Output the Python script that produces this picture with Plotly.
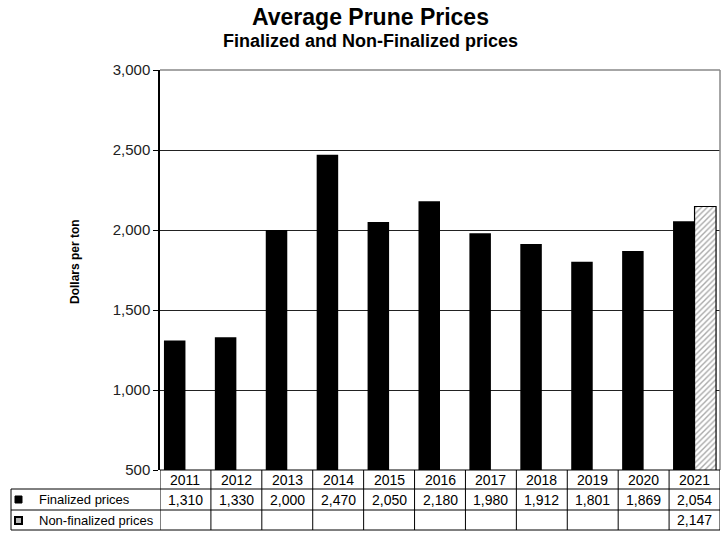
import plotly.graph_objects as go

years = ["2011", "2012", "2013", "2014", "2015", "2016", "2017", "2018", "2019", "2020", "2021"]
finalized = [1310, 1330, 2000, 2470, 2050, 2180, 1980, 1912, 1801, 1869, 2054]
non_finalized = [None, None, None, None, None, None, None, None, None, None, 2147]
y_ticks = [500, 1000, 1500, 2000, 2500, 3000]

FONT = "Arial, Liberation Sans, sans-serif"
W, H = 727, 533
L, R, T, B = 160, 7, 70, 63
PW, PH = W - L - R, H - T - B

def px(xpix):
    return (xpix - L) / PW

def py(ypix):
    return (H - B - ypix) / PH

fig = go.Figure()
fig.add_trace(go.Bar(x=years, y=finalized, name="Finalized prices",
                     marker=dict(color="black", line=dict(width=0))))
fig.add_trace(go.Bar(x=years, y=non_finalized, name="Non-finalized prices",
                     marker=dict(color="white", line=dict(color="black", width=1.2),
                                 pattern=dict(shape="/", fgcolor="#555555", bgcolor="white",
                                              size=4, solidity=0.35))))

shapes = []
annotations = []

# plot border (top/right grey)
shapes.append(dict(type="line", xref="paper", yref="paper", x0=0, x1=1, y0=1, y1=1,
                   line=dict(color="#888888", width=1.5)))
shapes.append(dict(type="line", xref="paper", yref="paper", x0=1, x1=1, y0=0, y1=1,
                   line=dict(color="#888888", width=1.5)))

# table geometry
r1, r2, r3 = py(489), py(510), py(530)
xl = px(11)
n = len(years)
for yy in (r1, r2, r3):
    shapes.append(dict(type="line", xref="paper", yref="paper", x0=xl, x1=1, y0=yy, y1=yy,
                       line=dict(color="black", width=1)))
shapes.append(dict(type="line", xref="paper", yref="paper", x0=0, x1=1, y0=0, y1=0,
                   line=dict(color="black", width=1)))
for i in range(n + 1):
    shapes.append(dict(type="line", xref="x", yref="paper", x0=i - 0.5, x1=i - 0.5, y0=0, y1=r3,
                       line=dict(color="black", width=1)))
shapes.append(dict(type="line", xref="paper", yref="paper", x0=xl, x1=xl, y0=r1, y1=r3,
                   line=dict(color="black", width=1)))

# legend keys
shapes.append(dict(type="rect", xref="paper", yref="paper", x0=px(15), x1=px(22),
                   y0=py(503), y1=py(496), fillcolor="black", line=dict(color="black", width=1)))
shapes.append(dict(type="rect", xref="paper", yref="paper", x0=px(15), x1=px(22),
                   y0=py(524), y1=py(517), fillcolor="#bbbbbb", line=dict(color="black", width=2)))

yc0, yc1, yc2 = py(479.5), py(499.5), py(520)
tf = dict(size=14, color="black", family=FONT)
lf = dict(size=13, color="black", family=FONT)
ctr = dict(xanchor="center", yanchor="middle", showarrow=False, font=tf)
for i, yr in enumerate(years):
    annotations.append(dict(x=i, y=yc0, xref="x", yref="paper", text=yr, **ctr))
    annotations.append(dict(x=i, y=yc1, xref="x", yref="paper", text=f"{finalized[i]:,}", **ctr))
    if non_finalized[i] is not None:
        annotations.append(dict(x=i, y=yc2, xref="x", yref="paper",
                                text=f"{non_finalized[i]:,}", **ctr))

annotations.append(dict(x=px(37), y=yc1, xref="paper", yref="paper", text="Finalized prices",
                        xanchor="left", yanchor="middle", showarrow=False, font=lf))
annotations.append(dict(x=px(37), y=yc2, xref="paper", yref="paper", text="Non-finalized prices",
                        xanchor="left", yanchor="middle", showarrow=False, font=lf))

# titles
annotations.append(dict(x=px(370), y=py(17), xref="paper", yref="paper",
                        text="<b>Average Prune Prices</b>", showarrow=False,
                        xanchor="center", yanchor="middle",
                        font=dict(size=23, color="black", family=FONT)))
annotations.append(dict(x=px(370), y=py(41), xref="paper", yref="paper",
                        text="<b>Finalized and Non-Finalized prices</b>", showarrow=False,
                        xanchor="center", yanchor="middle",
                        font=dict(size=18, color="black", family=FONT)))
# y-axis title
annotations.append(dict(x=px(75), y=py(262), xref="paper", yref="paper",
                        text="<b>Dollars per ton</b>", textangle=-90, showarrow=False,
                        xanchor="center", yanchor="middle",
                        font=dict(size=12, color="black", family=FONT)))

fig.update_layout(
    width=W, height=H,
    margin=dict(l=L, r=R, t=T, b=B, pad=0),
    paper_bgcolor="white", plot_bgcolor="white",
    barmode="group", bargap=0.155, bargroupgap=0,
    showlegend=False,
    font=dict(family=FONT, color="black"),
    shapes=shapes, annotations=annotations,
    xaxis=dict(type="category", showticklabels=False, showgrid=False, zeroline=False,
               showline=False, ticks="", range=[-0.5, n - 0.5]),
    yaxis=dict(range=[500, 3000], tickvals=y_ticks, ticktext=[f"{v:,}" for v in y_ticks],
               showgrid=True, gridcolor="#222222", gridwidth=1, zeroline=False,
               showline=True, linecolor="black", linewidth=1.5,
               ticks="outside", ticklen=5, tickcolor="black",
               tickfont=dict(size=15, color="#222222", family=FONT)),
)

fig.write_html("out.html", config={"displayModeBar": False},
               post_script="document.body.style.margin='0';document.body.style.overflow='hidden';")
